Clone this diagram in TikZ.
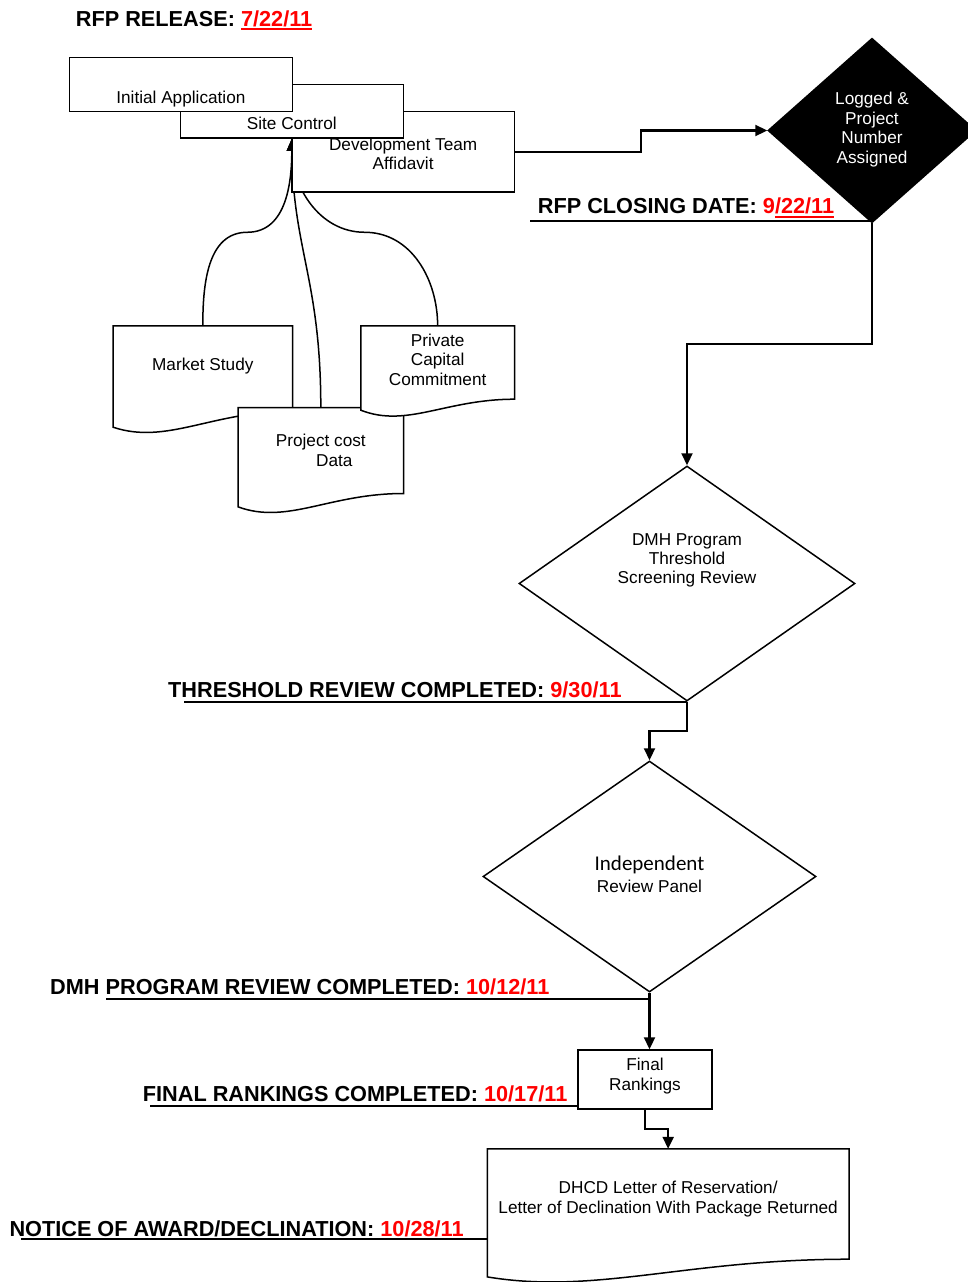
\documentclass[tikz,border=0pt]{standalone}
\usepackage{fontspec}
\setmainfont{Liberation Sans}
\newfontfamily\panelfont{Carlito}
\usetikzlibrary{shapes.geometric,arrows.meta,calc}

\newcommand{\celltext}[2]{\raisebox{#1}[0pt][0pt]{\begin{tabular}{@{}c@{}}#2\end{tabular}}}
\newcommand{\due}[1]{\textcolor{red}{#1}}
\newsavebox{\datebox}
\newcommand{\ruled}[1]{\sbox{\datebox}{#1}\rlap{\rule[-4.3pt]{\wd\datebox}{2pt}}\usebox{\datebox}}

\pgfdeclarelayer{links}
\pgfdeclarelayer{sheets}
\pgfsetlayers{links,sheets,main}

\tikzset{
  box/.style={rectangle, draw, fill=white, line width=1.5pt, inner sep=0pt},
  sheet/.style={rectangle, inner sep=0pt},
  sheetline/.style={draw, fill=white, line width=1.5pt},
  decision/.style={diamond, draw, line width=1.5pt, inner sep=0pt},
  stamp/.style={anchor=base west, inner sep=0pt, font=\bfseries\fontsize{21.7}{24}\selectfont},
  flow/.style={line width=2.2pt, -{Triangle[length=12pt,width=11pt]}},
  feed/.style={line width=1.5pt, -{Triangle[length=12pt,width=10pt]}},
  rule/.style={line width=2pt}
}

\begin{document}
\begin{tikzpicture}[x=1pt,y=-1pt,font=\fontsize{17.2}{19.4}\selectfont]

  \useasboundingbox (0,0) rectangle (968,1282);

  % application boxes, front one last
  \node[box, minimum width=222.3pt, minimum height=80.3pt] (devteam) at (403.15,151.85) {\celltext{-8.85pt}{Development Team\\Affidavit}};
  \node[box, minimum width=223pt, minimum height=53.3pt] (site) at (291.8,111.35) {\celltext{-18.2pt}{Site Control}};
  \node[box, minimum width=222.8pt, minimum height=54pt] (initapp) at (180.9,84.3) {\celltext{-19.25pt}{Initial Application}};

  % documents
  \node[sheet, minimum width=179pt, minimum height=85pt] (market) at (202.8,368.5) {\celltext{-2.55pt}{Market Study}};
  \node[sheet, minimum width=165pt, minimum height=85.6pt] (project) at (320.8,450.5) {\celltext{-6.55pt}{Project cost\\\hspace*{27pt}Data}};
  \node[sheet, minimum width=153.3pt, minimum height=73pt] (private) at (437.65,362.5) {\celltext{-3.7pt}{Private\\Capital\\Commitment}};
  \node[sheet, minimum width=361.3pt, minimum height=110pt] (dhcd) at (668.15,1204) {\celltext{0.15pt}{DHCD Letter of Reservation/\\Letter of Declination With Package Returned}};

  % decisions
  \node[decision, fill=black, text=white, minimum width=208pt, minimum height=184.4pt] (logged) at (872,130.5) {\celltext{-4pt}{Logged \&\\Project\\Number\\Assigned}};
  \node[decision, minimum width=336pt, minimum height=235pt] (threshold) at (687,583.5) {\celltext{18.65pt}{DMH Program\\Threshold\\Screening Review}};
  \node[decision, minimum width=333pt, minimum height=231pt] (panel) at (649.5,876.5) {\celltext{-4.75pt}{{\panelfont\fontsize{21}{24}\selectfont Independent}\\[2.3pt]Review Panel}};
  \node[box, minimum width=134pt, minimum height=59pt] (rankings) at (645,1079.5) {\celltext{-1.35pt}{Final\\Rankings}};

  % dates
  \node[stamp] (release) at (75.7,26) {RFP RELEASE: \due{\ruled{7/22/11}}};
  \node[stamp] (closing) at (537.7,213.3) {RFP CLOSING DATE: \due{9\ruled{/22/11}}};
  \node[stamp] (thresh) at (168,697.7) {THRESHOLD REVIEW COMPLETED: \due{9/30/11}};
  \node[stamp] (dmh) at (50,994) {DMH PROGRAM REVIEW COMPLETED: \due{10/12/11}};
  \node[stamp] (final) at (142.7,1101.3) {FINAL RANKINGS COMPLETED: \due{10/17/11}};
  \node[stamp] (notice) at (9.3,1236) {NOTICE OF AWARD/DECLINATION: \due{10/28/11}};

  \coordinate (closerule) at (530,220.7);
  \coordinate (threshrule) at (184,702.3);
  \coordinate (dmhrule) at (106,999.3);
  \coordinate (finalrule) at (150,1105.7);
  \coordinate (noticerule) at (21,1239.3);

  \draw[rule] (closerule) -- (closerule -| logged.south);
  \draw[rule] (threshrule) -- (threshrule -| threshold.south);
  \draw[rule] (dmhrule) -- (dmhrule -| panel.south);
  \draw[rule] (finalrule) -- (finalrule -| rankings.west);
  \draw[rule] (noticerule) -- (noticerule -| dhcd.west);

  \draw[flow] (devteam.east) -| ($(devteam.east)!0.5!(logged.west)$) |- (logged.west);
  \draw[flow] (logged.south) |- ($(logged.south)!0.5!(threshold.north)$) -| (threshold.north);
  \draw[flow] (threshold.south) |- ($(threshold.south)!0.5!(panel.north)$) -| (panel.north);
  \draw[flow] (panel.south) -- (panel.south |- rankings.north);
  \draw[flow] (rankings.south) |- ($(rankings.south)!0.5!(dhcd.north)$) -| (dhcd.north);

  \begin{pgfonlayer}{sheets}
    \foreach \s/\h in {market/16,project/13.4,private/11,dhcd/17.7}
      \draw[sheetline] (\s.north west) -- (\s.north east) -- (\s.south east)
        .. controls ($(\s.south west)!0.55!(\s.south east)$) and ($(\s.south west)!0.3!(\s.south east)+(0,\h+18)$)
        .. ($(\s.south west)+(0,\h)$) -- cycle;
  \end{pgfonlayer}

  \begin{pgfonlayer}{links}
    \fill[white] (0,0) rectangle (968,1282);
    \draw[feed] (market.north) to[out=90,in=180] ($(market.north)!0.5!(site.south)$) to[out=0,in=-90] (site.south);
    \draw[feed] (project.north) .. controls ($(project.north)+(0,-128)$) and ($(site.south)+(1,111)$) .. (site.south);
    \draw[feed] (private.north) to[out=90,in=0] ($(private.north)!0.5!(site.south)$) to[out=180,in=-90] (site.south);
  \end{pgfonlayer}

\end{tikzpicture}
\end{document}
